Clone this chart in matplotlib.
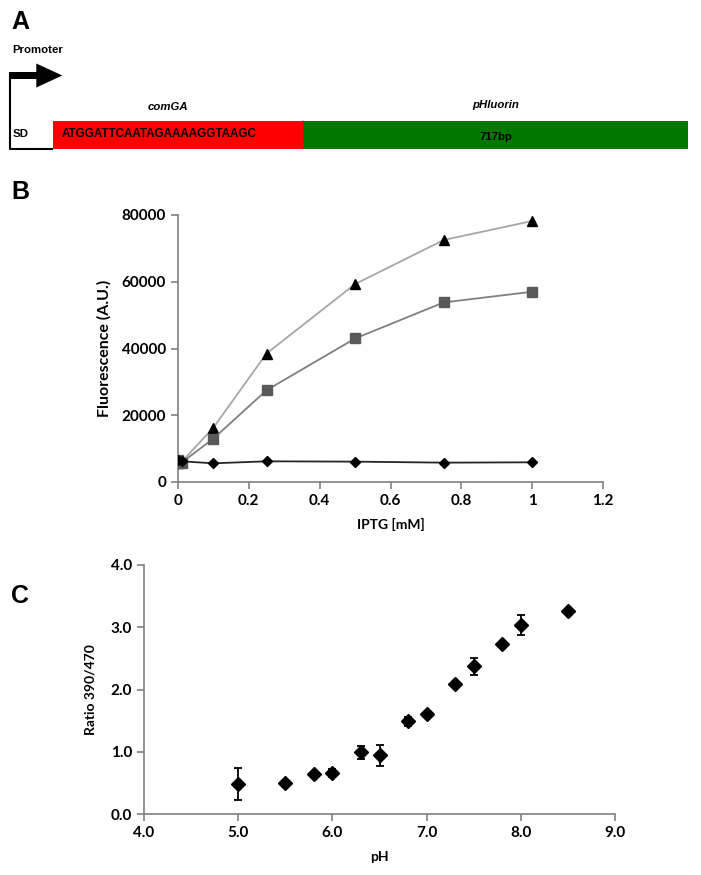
import numpy as np
import matplotlib
matplotlib.use('Agg')
from matplotlib import pyplot as plt
from matplotlib.patches import Rectangle, FancyArrow

# panel B: fluorescence vs IPTG
iptg = [0, 0.01, 0.1, 0.25, 0.5, 0.75, 1.0]
fl_diamond = [6500, 6200, 5600, 6200, 6100, 5800, 5900]
fl_square = [6500, 5800, 13000, 27500, 43000, 53800, 57000]
fl_triangle = [5800, 6000, 16300, 38500, 59300, 72500, 78200]
b_xticks = [0, 0.2, 0.4, 0.6, 0.8, 1, 1.2]
b_xticklabels = ['0', '0.2', '0.4', '0.6', '0.8', '1', '1.2']
b_yticks = [0, 20000, 40000, 60000, 80000]

# panel C: ratio vs pH
ph = [5.0, 5.5, 5.8, 6.0, 6.3, 6.5, 6.8, 7.0, 7.3, 7.5, 7.8, 8.0, 8.5]
ratio = [0.48, 0.49, 0.65, 0.66, 0.99, 0.94, 1.49, 1.61, 2.09, 2.37, 2.73, 3.04, 3.26]
ratio_err = [0.26, 0.04, 0.0, 0.07, 0.10, 0.17, 0.07, 0.0, 0.0, 0.13, 0.0, 0.16, 0.0]
c_xticks = [4.0, 5.0, 6.0, 7.0, 8.0, 9.0]
c_yticks = [0.0, 1.0, 2.0, 3.0, 4.0]

# panel A: construct
seq = 'ATGGATTCAATAGAAAAGGTAAGC'
gene1 = 'comGA'
gene2 = 'pHluorin'
gene2_len = '717bp'

tick_font = 'Lato'
axis_gray = '#808080'

fig = plt.figure(figsize=(7.01, 8.75), dpi=100)

# ---- panel A, drawn in pixel space ----
axa = fig.add_axes([0, 0, 1, 1])
axa.set_xlim(0, 701)
axa.set_ylim(875, 0)
axa.axis('off')
axa.add_patch(Rectangle((53, 121), 250, 28, facecolor='#ff0000', edgecolor='none'))
axa.add_patch(Rectangle((303, 121), 385, 28, facecolor='#007800', edgecolor='none'))
axa.plot([10, 10, 53], [72, 148.5, 148.5], color='black', lw=1.5, solid_capstyle='butt')
axa.add_patch(FancyArrow(9.3, 75.5, 27, 0, width=7, head_width=24, head_length=26,
                         length_includes_head=False, color='black', lw=0))
axa.text(12, 50, 'Promoter', family='Liberation Sans', weight='bold', fontsize=8.2,
         va='center', ha='left')
axa.text(13, 134, 'SD', family='Liberation Sans', weight='bold', fontsize=8.2,
         va='center', ha='left')
axa.text(62, 134, seq, family='Liberation Sans', weight='bold', fontsize=8.4,
         va='center', ha='left')
axa.text(168, 107, gene1, family='Liberation Sans', weight='bold', style='italic',
         fontsize=8.2, va='center', ha='center')
axa.text(496, 105, gene2, family='Liberation Sans', weight='bold', style='italic',
         fontsize=8.2, va='center', ha='center')
axa.text(496, 137, gene2_len, family='Liberation Sans', weight='bold', fontsize=8.2,
         va='center', ha='center')
for lab, (lx, ly) in {'A': (11, 22), 'B': (11, 192), 'C': (11, 596)}.items():
    axa.text(lx, ly, lab, family='Liberation Sans', weight='bold', fontsize=18,
             va='center', ha='left')


def style_axes(ax):
    for s in ['top', 'right']:
        ax.spines[s].set_visible(False)
    for s in ['left', 'bottom']:
        ax.spines[s].set_color(axis_gray)
        ax.spines[s].set_linewidth(1.2)
    ax.tick_params(color=axis_gray, width=1.2, length=5, labelsize=11)
    for lab in ax.get_xticklabels() + ax.get_yticklabels():
        lab.set_fontfamily(tick_font)
        lab.set_fontweight('bold')


# ---- panel B ----
axb = fig.add_axes([178 / 701, 1 - 482 / 875, 425 / 701, 267 / 875])
axb.plot(iptg, fl_triangle, color='#a6a6a6', lw=1.3, marker='^', ms=7,
         mfc='black', mec='black', zorder=3)
axb.plot(iptg, fl_square, color='#7f7f7f', lw=1.3, marker='s', ms=6.5,
         mfc='#595959', mec='#595959', zorder=3)
axb.plot(iptg, fl_diamond, color='#262626', lw=1.3, marker='D', ms=5.5,
         mfc='black', mec='black', zorder=3)
axb.set_xlim(0, 1.2)
axb.set_ylim(0, 80000)
axb.set_xticks(b_xticks)
axb.set_xticklabels(b_xticklabels)
axb.set_yticks(b_yticks)
style_axes(axb)
axb.set_xlabel('IPTG [mM]', family=tick_font, weight='bold', fontsize=10, labelpad=7)
axb.set_ylabel('Fluorescence (A.U.)', family=tick_font, weight='bold', fontsize=11.5,
               labelpad=7)

# ---- panel C ----
axc = fig.add_axes([144 / 701, 1 - 814 / 875, 471 / 701, 249 / 875])
axc.errorbar(ph, ratio, yerr=ratio_err, fmt='D', color='black', ms=7.5,
             ecolor='black', elinewidth=1.3, capsize=3, capthick=1.3, zorder=3)
axc.set_xlim(4.0, 9.0)
axc.set_ylim(0.0, 4.0)
axc.set_xticks(c_xticks)
axc.set_xticklabels([f'{v:.1f}' for v in c_xticks])
axc.set_yticks(c_yticks)
axc.set_yticklabels([f'{v:.1f}' for v in c_yticks])
style_axes(axc)
axc.set_xlabel('pH', family=tick_font, weight='bold', fontsize=10, labelpad=8)
axc.set_ylabel('Ratio 390/470', family=tick_font, weight='bold', fontsize=10,
               labelpad=10)

fig.savefig('out.png', dpi=100)
